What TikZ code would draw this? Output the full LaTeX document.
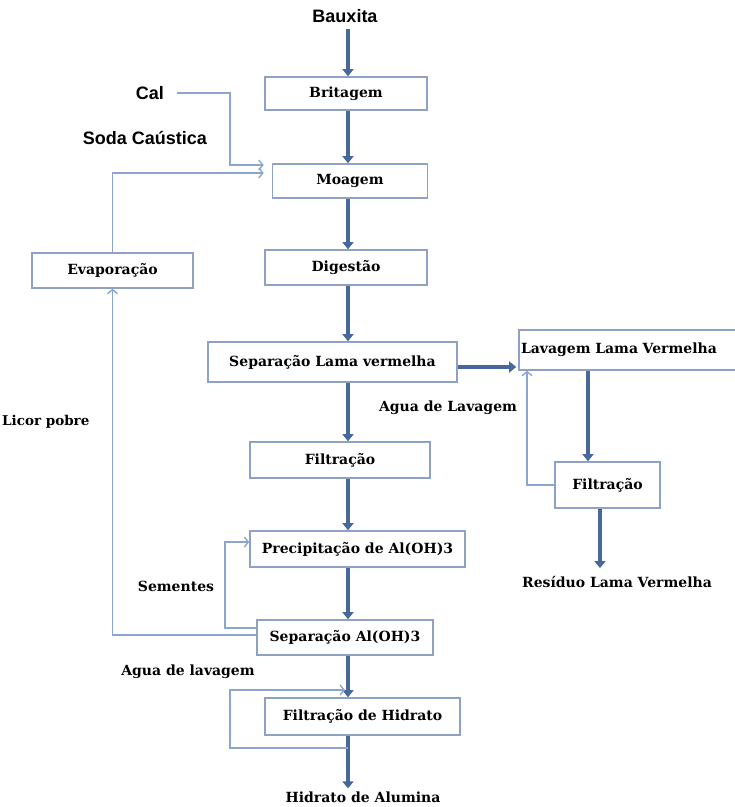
\documentclass[tikz,border=0pt]{standalone}
\usepackage{fontspec}
\setmainfont{DejaVu Serif}
\newfontfamily\sansf{Liberation Sans}
\usetikzlibrary{arrows.meta,calc}
\definecolor{bx}{HTML}{8FA2C6}
\definecolor{thk}{HTML}{46689B}
\definecolor{thn}{HTML}{8BA4D0}
\begin{document}
\begin{tikzpicture}[x=1pt,y=-1pt,
  box/.style={draw=bx,line width=1.6pt,fill=white,rectangle,inner sep=0pt,font=\bfseries\fontsize{14}{16}\selectfont},
  lbl/.style={font=\bfseries\fontsize{14}{16}\selectfont,inner sep=0pt},
  slbl/.style={font=\sansf\bfseries\fontsize{18}{20}\selectfont,inner sep=0pt},
  thickarr/.style={draw=thk,line width=4.5pt,-{Triangle[width=11pt,length=7pt]}},
  thinarr/.style={draw=thn,line width=1.6pt,-{Straight Barb[length=4pt,width=10pt,line width=1.4pt]}}
]
\useasboundingbox (0,0) rectangle (735,807);
\coordinate (ax) at (348,0);

% labels
\node[slbl] (baux) at (345,16) {Bauxita};
\node[slbl] (cal) at (150,93) {Cal};
\node[slbl] (soda) at (145,138) {Soda Caústica};
\node[lbl] (agua1) at (448,408) {Agua de Lavagem};
\node[lbl,anchor=west,font=\bfseries\fontsize{13.5}{16}\selectfont] (licor) at (2,422) {Licor pobre};
\node[lbl] (res) at (617,582) {Resíduo Lama Vermelha};
\node[lbl] (sem) at (176,586) {Sementes};
\node[lbl] (agua2) at (188,672) {Agua de lavagem};
\node[lbl] (hid) at (363,797) {Hidrato de Alumina};

% boxes
\node[box,minimum width=162pt,minimum height=33pt] (brit) at (346,93.5) {Britagem};
\node[box,minimum width=155pt,minimum height=34pt] (moag) at (350,181) {Moagem};
\node[box,minimum width=162pt,minimum height=35pt] (dig) at (346,267.5) {Digestão};
\node[box,minimum width=161pt,minimum height=35pt] (evap) at (112.5,270.5) {Evaporação};
\node[box,minimum width=249pt,minimum height=40pt] (sep) at (332.5,362) {Separação Lama vermelha};
\node[box,minimum width=226pt,minimum height=40pt,text width=222pt,align=left] (lav) at (632,350) {Lavagem Lama Vermelha};
\node[box,minimum width=180pt,minimum height=36pt] (filt) at (340,460) {Filtração};
\node[box,minimum width=105pt,minimum height=46pt] (filt2) at (607.5,485) {Filtração};
\node[box,minimum width=215pt,minimum height=36pt] (prec) at (357.5,549) {Precipitação de Al(OH)3};
\node[box,minimum width=176pt,minimum height=35pt] (sepal) at (345,637.5) {Separação Al(OH)3};
\node[box,minimum width=195pt,minimum height=37pt] (fhid) at (362.5,716.5) {Filtração de Hidrato};

% thick arrows
\draw[thickarr] ($(baux.south -| ax)+(0,6)$) -- (brit.north -| ax);
\draw[thickarr] (brit.south -| ax) -- (moag.north -| ax);
\draw[thickarr] (moag.south -| ax) -- (dig.north -| ax);
\draw[thickarr] (dig.south -| ax) -- (sep.north -| ax);
\draw[thickarr] (sep.south -| ax) -- (filt.north -| ax);
\draw[thickarr] (filt.south -| ax) -- (prec.north -| ax);
\draw[thickarr] (prec.south -| ax) -- (sepal.north -| ax);
\draw[thickarr] (sepal.south -| ax) -- (fhid.north -| ax);
\draw[thickarr] (fhid.south -| ax) -- ($(hid.north -| ax)+(0,-3)$);
\draw[thickarr] (sep.east |- 0,367) -- ($(lav.west |- 0,367)+(-2,0)$);
\coordinate (ax2) at (588,0);
\draw[thickarr] (lav.south -| ax2) -- (filt2.north -| ax2);
\coordinate (ax3) at (600,0);
\draw[thickarr] (filt2.south -| ax3) -- ($(res.north -| ax3)+(0,-8)$);

% thin connectors
\draw[thinarr] ($(cal.east)+(13,0)$) -| (230,165) -- ($(moag.west |- 0,165)+(-8,0)$);
\draw[thinarr] (evap.north) |- ($(moag.west |- 0,173)+(-8,0)$);
\draw[thinarr] (sepal.west |- 0,635) -| (evap.south);
\draw[thinarr] (sepal.west |- 0,628) -| (225,542) -- (prec.west |- 0,542);
\draw[thinarr] (filt2.west) -| (lav.south -| 527,0);
\coordinate (lp) at ($(fhid.south -| ax)+(0,12)$);
\coordinate (lq) at (345,690);
\draw[thinarr] (lp) -| (230,690) -- (lq);
\end{tikzpicture}
\end{document}
